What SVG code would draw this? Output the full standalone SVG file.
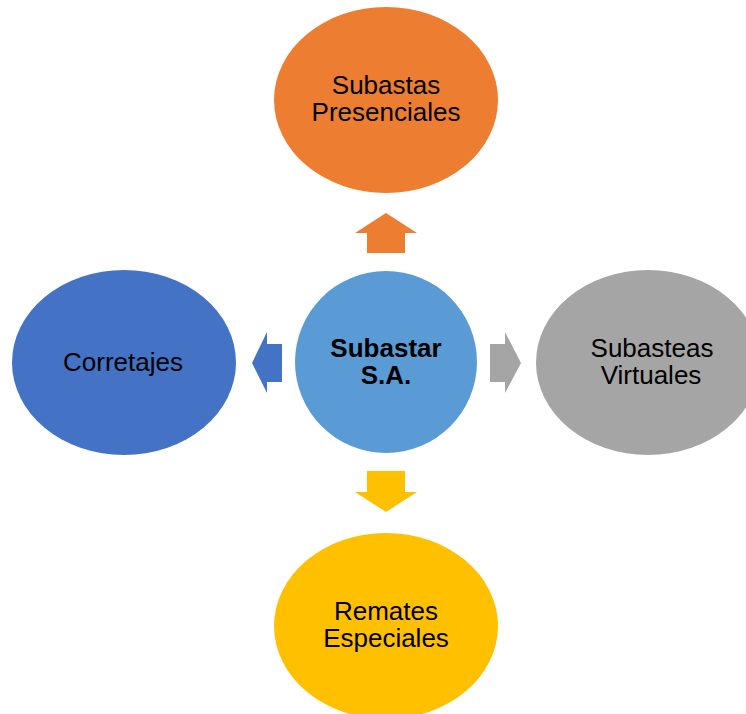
<svg xmlns="http://www.w3.org/2000/svg" width="746" height="714" viewBox="0 0 746 714">
<style>
text{font-family:"Liberation Sans",Arial,sans-serif;font-size:26px;fill:#000;text-anchor:middle}
.b{font-weight:bold}
</style>
<rect width="746" height="714" fill="#fff"/>
<g id="connectors">
<polygon points="386,213 417,233 405,233 405,253 367,253 367,233 355,233" fill="#ED7D31"/>
<polygon points="252,363 267,332 267,344 282,344 282,382 267,382 267,393" fill="#4472C4"/>
<polygon points="521,363 505,332 505,344 490,344 490,382 505,382 505,393" fill="#A5A5A5"/>
<polygon points="386,512 417,492 405,492 405,471 367,471 367,492 355,492" fill="#FFC000"/>
</g>
<g id="node-top">
<ellipse cx="386" cy="100" rx="112" ry="93" fill="#ED7D31"/>
<text x="386" y="94">Subastas</text>
<text x="386" y="121">Presenciales</text>
</g>
<g id="node-left">
<ellipse cx="124" cy="362.5" rx="112" ry="92.5" fill="#4472C4"/>
<text x="123" y="371">Corretajes</text>
</g>
<g id="node-right">
<ellipse cx="648" cy="362.5" rx="112" ry="92.5" fill="#A5A5A5"/>
<text x="652" y="357">Subasteas</text>
<text x="651" y="384">Virtuales</text>
</g>
<g id="node-bottom">
<ellipse cx="386" cy="626" rx="112" ry="93" fill="#FFC000"/>
<text x="386" y="620">Remates</text>
<text x="386" y="647">Especiales</text>
</g>
<g id="node-center">
<circle cx="386" cy="362" r="91" fill="#5B9BD5"/>
<text class="b" x="386" y="357">Subastar</text>
<text class="b" x="386" y="384">S.A.</text>
</g>
</svg>
